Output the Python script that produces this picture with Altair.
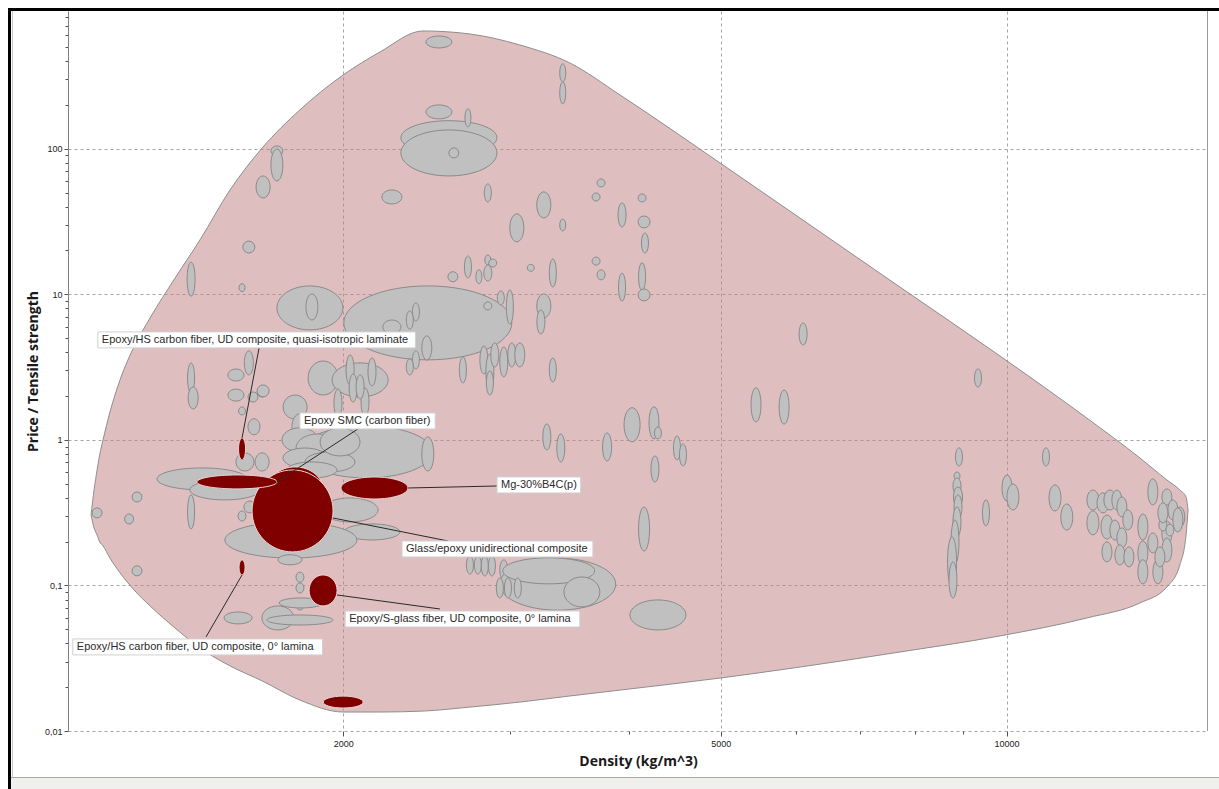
import math
import altair as alt
import pandas as pd

# ------------------------------------------------------------------ data
# grey material bubbles: centre density (kg/m^3), centre price/tensile strength,
# and the width of each bubble's range in decades (log10 hi/lo)
gray_density = [
    2523, 3407, 3407, 2523, 2585, 2585, 2616, 2707, 1703, 1703,
    1647, 2251, 2841, 3254, 3407, 3048, 1591, 1383, 2707, 2841,
    2875, 2841, 2780, 2610, 3153, 3326, 3739, 3694, 4130, 3934,
    4150, 4159, 3694, 3739, 3934, 4130, 4150, 1565, 1845, 1854,
    2456, 2251, 2386, 2351, 2450, 2386, 2351, 2674, 2932, 2997,
    2841, 3254, 3231, 2814, 2855, 2889, 2953, 3011, 3070, 2855,
    3326, 1905, 2084, 2034, 2145, 2049, 2109, 1975, 2084, 1780,
    1801, 1643, 1607, 1611, 1383, 1390, 1542, 1542, 1565, 1591, 1647,
    1576, 1643, 1420, 1501, 2115, 2456, 1801, 1882, 1823, 1937,
    1985, 1854, 2034, 2145, 1762, 1758, 1565, 1595, 1801, 1801,
    1801, 1806, 1213, 1101, 1190, 1383, 1213, 1550, 1707, 1801,
    3278, 3391, 3794, 4031, 4251, 4292, 4495, 4561, 4261, 4150,
    2720, 2773, 2820, 2869, 2953, 3366, 3293, 3569, 2925, 2983,
    3055, 4292, 6104, 9330, 5445, 5829, 8909, 8866, 8866, 8888,
    8888, 8866, 8823, 8760, 8780, 9512, 10010, 10155, 11003, 11246,
    11572, 12330, 12330, 12634, 12848, 13067, 12757, 13004, 13227, 13420,
    13227, 12757, 13163, 13455, 14259, 13918, 13918, 13918, 14434, 14753,
    14969, 15223, 14753, 14753, 14504, 14259, 14611, 14860, 15150, 14611,
]
gray_price = [
    541, 332, 242, 179, 119, 93.5, 93.5, 163, 96.5, 77.3,
    54.6, 46.6, 49.7, 41.1, 29.9, 28.6, 21.1, 12.7, 15.4, 17.2,
    16.4, 14.0, 13.2, 13.2, 15.2, 14.0, 58.2, 46.6, 45.9, 35.1,
    31.4, 22.5, 16.9, 13.6, 11.2, 13.2, 9.90, 11.1, 8.06, 8.18,
    6.36, 5.96, 7.56, 6.66, 4.28, 3.54, 3.17, 3.02, 9.44, 8.18,
    8.32, 8.32, 6.45, 3.54, 2.93, 3.83, 3.43, 3.83, 3.83, 2.46,
    3.02, 2.66, 2.58, 3.02, 2.93, 2.27, 1.82, 1.79, 2.31, 1.68,
    1.23, 2.13, 1.97, 1.23, 2.66, 1.94, 2.79, 2.03, 1.58, 3.38, 2.17,
    0.705, 0.705, 0.539, 0.453, 0.826, 0.800, 1.00, 0.880, 0.751, 0.705,
    0.967, 0.621, 0.330, 0.233, 0.205, 0.150, 0.300, 0.346, 0.114, 0.0961,
    0.0734, 0.0758, 0.405, 0.315, 0.286, 0.320, 0.126, 0.0598, 0.0598, 0.0579,
    1.047, 0.880, 0.894, 1.27, 1.31, 1.115, 0.880, 0.788, 0.631, 0.244,
    0.138, 0.138, 0.136, 0.136, 0.128, 0.102, 0.126, 0.0902, 0.0961, 0.0961,
    0.0961, 0.0627, 5.34, 2.66, 1.74, 1.68, 0.763, 0.565, 0.482, 0.405,
    0.346, 0.273, 0.199, 0.145, 0.109, 0.315, 0.467, 0.405, 0.763, 0.399,
    0.295, 0.386, 0.269, 0.369, 0.386, 0.386, 0.252, 0.240, 0.346, 0.282,
    0.212, 0.170, 0.162, 0.157, 0.439, 0.252, 0.167, 0.124, 0.124, 0.405,
    0.330, 0.295, 0.229, 0.175, 0.157, 0.196, 0.260, 0.240, 0.282, 0.315,
]
gray_density_range = [
    0.0274, 0.0063, 0.0063, 0.0274, 0.1012, 0.1012, 0.0105, 0.0063, 0.0126, 0.0126,
    0.0148, 0.0211, 0.0074, 0.0148, 0.0063, 0.0148, 0.0126, 0.0084, 0.0074, 0.0063,
    0.0084, 0.0084, 0.0063, 0.0105, 0.0074, 0.0074, 0.0084, 0.0084, 0.0084, 0.0084,
    0.0126, 0.0074, 0.0084, 0.0084, 0.0074, 0.0074, 0.0126, 0.0063, 0.0695, 0.0126,
    0.1770, 0.0190, 0.0074, 0.0074, 0.0105, 0.0074, 0.0074, 0.0074, 0.0074, 0.0074,
    0.0084, 0.0148, 0.0084, 0.0084, 0.0084, 0.0084, 0.0084, 0.0084, 0.0105, 0.0074,
    0.0074, 0.0316, 0.0590, 0.0084, 0.0084, 0.0084, 0.0084, 0.0084, 0.0084, 0.0253,
    0.0169, 0.0105, 0.0105, 0.0126, 0.0074, 0.0105, 0.0169, 0.0169, 0.0074, 0.0095, 0.0126,
    0.0190, 0.0148, 0.0948, 0.0738, 0.1391, 0.0126, 0.0379, 0.0464, 0.0464, 0.0527,
    0.0421, 0.0527, 0.0590, 0.0590, 0.1391, 0.0253, 0.0084, 0.0126, 0.0084, 0.0084,
    0.0084, 0.0464, 0.0105, 0.0105, 0.0095, 0.0074, 0.0105, 0.0295, 0.0337, 0.0695,
    0.0084, 0.0084, 0.0095, 0.0169, 0.0105, 0.0074, 0.0074, 0.0074, 0.0084, 0.0116,
    0.0074, 0.0074, 0.0074, 0.0074, 0.0084, 0.1222, 0.0969, 0.0379, 0.0074, 0.0074,
    0.0074, 0.0590, 0.0084, 0.0074, 0.0105, 0.0105, 0.0074, 0.0063, 0.0084, 0.0095,
    0.0084, 0.0084, 0.0084, 0.0095, 0.0084, 0.0074, 0.0105, 0.0126, 0.0074, 0.0126,
    0.0126, 0.0126, 0.0126, 0.0126, 0.0126, 0.0105, 0.0126, 0.0105, 0.0105, 0.0105,
    0.0105, 0.0105, 0.0105, 0.0105, 0.0105, 0.0105, 0.0105, 0.0105, 0.0105, 0.0105,
    0.0105, 0.0105, 0.0105, 0.0105, 0.0105, 0.0105, 0.0084, 0.0084, 0.0105, 0.0105,
]
gray_price_range = [
    0.082, 0.124, 0.151, 0.096, 0.234, 0.316, 0.069, 0.124, 0.069, 0.220,
    0.151, 0.096, 0.124, 0.179, 0.082, 0.192, 0.082, 0.234, 0.151, 0.069,
    0.055, 0.110, 0.096, 0.069, 0.048, 0.192, 0.055, 0.055, 0.055, 0.165,
    0.082, 0.137, 0.055, 0.069, 0.192, 0.192, 0.082, 0.055, 0.302, 0.179,
    0.508, 0.096, 0.124, 0.124, 0.165, 0.124, 0.110, 0.179, 0.096, 0.234,
    0.055, 0.165, 0.165, 0.192, 0.247, 0.165, 0.206, 0.165, 0.165, 0.165,
    0.165, 0.234, 0.234, 0.206, 0.192, 0.192, 0.192, 0.192, 0.165, 0.165,
    0.179, 0.069, 0.069, 0.110, 0.206, 0.151, 0.082, 0.082, 0.055, 0.165, 0.082,
    0.124, 0.124, 0.151, 0.137, 0.357, 0.234, 0.165, 0.192, 0.137, 0.137,
    0.192, 0.110, 0.165, 0.110, 0.247, 0.069, 0.069, 0.082, 0.069, 0.069,
    0.069, 0.069, 0.069, 0.069, 0.069, 0.234, 0.069, 0.082, 0.165, 0.069,
    0.179, 0.192, 0.192, 0.234, 0.220, 0.082, 0.165, 0.151, 0.179, 0.302,
    0.124, 0.124, 0.137, 0.137, 0.137, 0.357, 0.179, 0.206, 0.137, 0.137,
    0.137, 0.206, 0.151, 0.124, 0.234, 0.234, 0.124, 0.055, 0.110, 0.137,
    0.165, 0.206, 0.302, 0.343, 0.247, 0.179, 0.179, 0.179, 0.124, 0.179,
    0.179, 0.137, 0.165, 0.137, 0.137, 0.137, 0.165, 0.137, 0.137, 0.137,
    0.137, 0.137, 0.137, 0.137, 0.179, 0.179, 0.165, 0.165, 0.165, 0.110,
    0.137, 0.137, 0.165, 0.165, 0.137, 0.137, 0.082, 0.082, 0.165, 0.137,
]

# highlighted (dark red) materials
hl_density = [1780, 1769, 1546, 1565, 2158, 1565, 1905, 2000]
hl_price = [0.453, 0.325, 0.514, 0.866, 0.467, 0.133, 0.0924, 0.0158]
hl_density_range = [0.0590, 0.0853, 0.0843, 0.0074, 0.0706, 0.0063, 0.0295, 0.0421]
hl_price_range = [0.316, 0.563, 0.096, 0.151, 0.151, 0.103, 0.213, 0.082]

# annotation labels
label_text = [
    "Epoxy/HS carbon fiber, UD composite, quasi-isotropic laminate",
    "Epoxy SMC (carbon fiber)",
    "Mg-30%B4C(p)",
    "Glass/epoxy unidirectional composite",
    "Epoxy/S-glass fiber, UD composite, 0° lamina",
    "Epoxy/HS carbon fiber, UD composite, 0° lamina",
]
label_density = [1103, 1801, 2905, 2307, 2010, 1038]
label_price = [4.86, 1.349, 0.490, 0.178, 0.0588, 0.0378]
leader_density_from = [1565, 1703, 2341, 1951, 1970, 1565]
leader_price_from = [1.031, 0.514, 0.467, 0.2907, 0.0860, 0.118]
leader_density_to = [1631, 2073, 2905, 2579, 2529, 1434]
leader_price_to = [4.28, 1.188, 0.482, 0.2020, 0.0689, 0.0443]

# envelope of all materials
hull_density = [1085, 1093, 1101, 1108, 1117, 1136, 1164, 1207, 1252, 1330,
                1413, 1520, 1643, 1801, 2000, 2187, 2427, 2720, 3070, 3467,
                3915, 4989, 6058, 7722, 9840, 12153, 13818, 14753, 15223, 15455, 15530]
hull_upper = [0.305, 0.453, 0.621, 0.788, 1.00, 1.555, 2.58, 4.49, 6.88, 12.9,
              23.6, 52.1, 101, 185, 321, 462, 644, 614, 516, 388,
              234, 79.9, 33.4, 11.2, 3.77, 1.41, 0.751, 0.530, 0.453, 0.405, 0.330]
hull_lower = [0.305, 0.248, 0.222, 0.199, 0.187, 0.154, 0.122, 0.0916, 0.0723, 0.0510,
              0.0372, 0.0280, 0.0221, 0.0163, 0.0135, 0.0135, 0.0137, 0.0146, 0.0158, 0.0174,
              0.0191, 0.0231, 0.0275, 0.0349, 0.0450, 0.0598, 0.0758, 0.0976, 0.138, 0.222, 0.330]

x_major = [2000, 5000, 10000]
x_minor = [3000, 4000, 6000, 7000, 8000, 9000]
y_major = [0.01, 0.1, 1, 10, 100]
y_minor = [0.02, 0.03, 0.04, 0.05, 0.06, 0.07, 0.08, 0.09,
           0.2, 0.3, 0.4, 0.5, 0.6, 0.7, 0.8, 0.9,
           2, 3, 4, 5, 6, 7, 8, 9,
           20, 30, 40, 50, 60, 70, 80, 90,
           200, 300, 400, 500, 600, 700, 800]

# ------------------------------------------------------------------ layout
W, H = 1140, 720
X_DOMAIN = [1026, 16300]
Y_DOMAIN = [0.01, 883]
PPD_X = W / (math.log10(X_DOMAIN[1]) - math.log10(X_DOMAIN[0]))
PPD_Y = H / (math.log10(Y_DOMAIN[1]) - math.log10(Y_DOMAIN[0]))


def ellipse_path(drange, prange):
    rx = drange * PPD_X / 2
    ry = prange * PPD_Y / 2
    return (f"M{-rx:.2f},0A{rx:.2f},{ry:.2f},0,1,0,{rx:.2f},0"
            f"A{rx:.2f},{ry:.2f},0,1,0,{-rx:.2f},0Z")


def text_width(s, fs=11):
    w = 0.0
    for ch in s:
        if ch in "ijl":
            w += 0.23
        elif ch in "ftr/ ,.()-I":
            w += 0.30
        elif ch in "mM":
            w += 0.83
        elif ch in "%":
            w += 0.89
        elif ch.isupper():
            w += 0.69
        elif ch in "csvxyzk":
            w += 0.50
        else:
            w += 0.556
    return w * fs


def box_path(s):
    w = text_width(s) + 9
    return f"M0,-8H{w:.1f}V8H0Z"


x_scale = alt.Scale(type="log", domain=X_DOMAIN, nice=False)
y_scale = alt.Scale(type="log", domain=Y_DOMAIN, nice=False)

x_test = f"indexof({x_major}, datum.value) >= 0"
y_test = f"indexof({y_major}, datum.value) >= 0"

x_axis = alt.Axis(
    values=sorted(x_major + x_minor),
    labelExpr=f"{x_test} ? toString(datum.value) : ''",
    grid=True,
    gridOpacity={"condition": {"test": x_test, "value": 1}, "value": 0},
    gridColor="#a6a6a6", gridDash=[3, 3], gridWidth=1,
    tickSize={"condition": {"test": x_test, "value": 5}, "value": 3},
    tickColor="#505050", domain=False,
    labelFont="Liberation Sans", labelFontSize=9, labelColor="#222222",
    labelPadding=3, labelFlush=False, labelOverlap=False,
    title="Density (kg/m^3)", titleFont="Open Sans", titleFontSize=14,
    titleFontWeight="bold", titleColor="#1a1a1a",
    titleX=570, titleY=30, titleAlign="center", titleBaseline="middle",
)
y_axis = alt.Axis(
    values=sorted(y_major + y_minor),
    labelExpr=f"{y_test} ? replace(toString(datum.value), '.', ',') : ''",
    grid=True,
    gridOpacity={"condition": {"test": y_test, "value": 1}, "value": 0},
    gridColor="#a6a6a6", gridDash=[3, 3], gridWidth=1,
    tickSize={"condition": {"test": y_test, "value": 4}, "value": 3},
    tickColor="#505050", domain=True, domainColor="#808080",
    labelFont="Liberation Sans", labelFontSize=9, labelColor="#222222",
    labelPadding=2, labelFlush=False, labelOverlap=False,
    title="Price / Tensile strength", titleFont="Open Sans", titleFontSize=14,
    titleFontWeight="bold", titleColor="#1a1a1a", titleAngle=270,
    titleX=-35, titleY=360, titleAlign="center", titleBaseline="middle",
)


def X(f):
    return alt.X(f"{f}:Q", scale=x_scale, axis=x_axis)


def Y(f):
    return alt.Y(f"{f}:Q", scale=y_scale, axis=y_axis)


hull_df = pd.DataFrame({"x": hull_density, "y": hull_upper, "y2": hull_lower})
gray_df = pd.DataFrame({
    "x": gray_density, "y": gray_price,
    "path": [ellipse_path(a, b) for a, b in zip(gray_density_range, gray_price_range)],
})
hl_df = pd.DataFrame({
    "x": hl_density, "y": hl_price,
    "path": [ellipse_path(a, b) for a, b in zip(hl_density_range, hl_price_range)],
})
lead_df = pd.DataFrame({
    "x": leader_density_from, "y": leader_price_from,
    "x2": leader_density_to, "y2": leader_price_to,
})
lab_df = pd.DataFrame({
    "x": label_density, "y": label_price, "text": label_text,
    "path": [box_path(t) for t in label_text],
})

hull = alt.Chart(hull_df).mark_area(
    orient="vertical", interpolate="monotone", fill="#bf7d81", fillOpacity=0.5,
    stroke="#8e8e8e", strokeWidth=1, opacity=1,
).encode(x=X("x"), y=Y("y"), y2="y2:Q")

gray = alt.Chart(gray_df).mark_point(
    filled=True, fill="#c0c0c0", stroke="#8a8a8a", strokeWidth=1, opacity=1, size=4,
).encode(x=X("x"), y=Y("y"), shape=alt.Shape("path:N", scale=None, legend=None))

red = alt.Chart(hl_df).mark_point(
    filled=True, fill="#800000", stroke="#ead6d6", strokeWidth=1, opacity=1, size=4,
).encode(x=X("x"), y=Y("y"), shape=alt.Shape("path:N", scale=None, legend=None))

leaders = alt.Chart(lead_df).mark_rule(color="#2a2a2a", strokeWidth=1).encode(
    x=X("x"), y=Y("y"), x2="x2:Q", y2="y2:Q")

boxes = alt.Chart(lab_df).mark_point(
    filled=True, fill="#ffffff", stroke="#d0d0d0", strokeWidth=1, opacity=1, size=4,
).encode(x=X("x"), y=Y("y"), shape=alt.Shape("path:N", scale=None, legend=None))

texts = alt.Chart(lab_df).mark_text(
    align="left", baseline="middle", dx=4, font="Liberation Sans", fontSize=11,
    color="#2b2b2b",
).encode(x=X("x"), y=Y("y"), text="text:N")

# window frame decoration
one = pd.DataFrame({"k": [0]})
frame_left = alt.Chart(one).mark_rule(color="#000000", strokeWidth=3).encode(
    x=alt.value(-58.5), y=alt.value(-3), y2=alt.value(778))
frame_top = alt.Chart(one).mark_rule(color="#000000", strokeWidth=3).encode(
    x=alt.value(-60), x2=alt.value(1151), y=alt.value(-1.5))
inner_left = alt.Chart(one).mark_rule(color="#c8c8c8", strokeWidth=1).encode(
    x=alt.value(-55.5), y=alt.value(0), y2=alt.value(766))
status_bar = alt.Chart(one).mark_rect(color="#f0efee").encode(
    x=alt.value(-57), x2=alt.value(1151), y=alt.value(766), y2=alt.value(778))
status_line = alt.Chart(one).mark_rule(color="#a8a8a8", strokeWidth=1).encode(
    x=alt.value(-57), x2=alt.value(1151), y=alt.value(766.5))
right_border = alt.Chart(one).mark_rule(color="#9a9a9a", strokeWidth=1).encode(
    x=alt.value(W - 0.5), y=alt.value(0), y2=alt.value(H))

chart = alt.layer(
    hull, gray, red, leaders, boxes, texts,
    frame_left, frame_top, inner_left, status_bar, status_line, right_border,
).properties(
    width=W, height=H,
    autosize=alt.AutoSizeParams(type="none"),
    padding={"left": 68, "top": 11, "right": 11, "bottom": 58},
    background="#ffffff",
).configure_view(stroke=None)

chart.save("out.html", embed_options={"renderer": "svg", "actions": False})
